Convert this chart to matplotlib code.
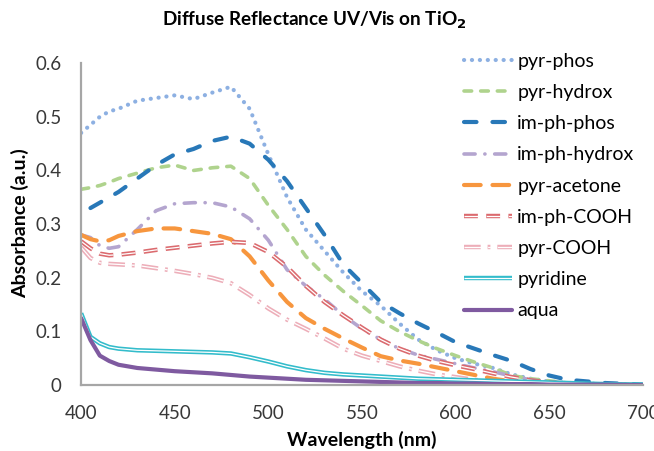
import numpy as np
import matplotlib
matplotlib.use('Agg')
import matplotlib.pyplot as plt

plt.rcParams['font.family'] = ['Lato', 'DejaVu Sans']
plt.rcParams['lines.scale_dashes'] = False

# wavelength grid (nm) shared by all series
wl = [400, 405, 410, 415, 420, 430, 440, 450, 460, 470, 480, 490, 500, 510, 520,
      530, 540, 550, 560, 570, 580, 590, 600, 610, 620, 630, 640, 650, 660, 680, 700]

pyr_phos = [0.47, 0.485, 0.50, 0.51, 0.515, 0.53, 0.535, 0.54, 0.533, 0.545, 0.556, 0.515, 0.43,
            0.35, 0.29, 0.25, 0.21, 0.175, 0.148, 0.115, 0.085, 0.065, 0.05, 0.04, 0.032, 0.02,
            0.012, 0.007, 0.004, 0.002, 0.001]
pyr_hydrox = [0.365, 0.368, 0.372, 0.378, 0.385, 0.395, 0.405, 0.41, 0.40, 0.405, 0.408, 0.385,
              0.335, 0.29, 0.24, 0.205, 0.175, 0.148, 0.12, 0.10, 0.083, 0.068, 0.055, 0.043,
              0.032, 0.018, 0.012, 0.008, 0.004, 0.002, 0.001]
im_ph_phos = [np.nan, 0.33, 0.34, 0.35, 0.36, 0.385, 0.41, 0.43, 0.44, 0.455, 0.463, 0.45, 0.42,
              0.38, 0.33, 0.28, 0.225, 0.19, 0.155, 0.134, 0.115, 0.098, 0.08, 0.068, 0.056,
              0.045, 0.03, 0.018, 0.01, 0.004, 0.001]
im_ph_hydrox = [0.28, 0.275, 0.26, 0.255, 0.258, 0.29, 0.325, 0.338, 0.34, 0.34, 0.332, 0.31,
                0.27, 0.215, 0.185, 0.16, 0.13, 0.105, 0.085, 0.068, 0.056, 0.048, 0.04, 0.032,
                0.025, 0.017, 0.01, 0.006, 0.003, 0.001, 0.0]
pyr_acetone = [0.28, 0.272, 0.268, 0.27, 0.278, 0.287, 0.292, 0.292, 0.287, 0.282, 0.272, 0.24,
               0.195, 0.155, 0.125, 0.105, 0.087, 0.07, 0.054, 0.046, 0.04, 0.033, 0.026, 0.019,
               0.012, 0.007, 0.004, 0.002, 0.001, 0.0, 0.0]
im_ph_cooh = [0.268, 0.255, 0.245, 0.242, 0.243, 0.247, 0.252, 0.256, 0.26, 0.264, 0.267, 0.265,
              0.248, 0.22, 0.185, 0.155, 0.13, 0.107, 0.085, 0.068, 0.055, 0.045, 0.037, 0.03,
              0.022, 0.015, 0.009, 0.005, 0.003, 0.001, 0.0]
pyr_cooh = [0.257, 0.237, 0.228, 0.226, 0.225, 0.223, 0.218, 0.213, 0.207, 0.2, 0.19, 0.168,
            0.143, 0.122, 0.105, 0.087, 0.068, 0.055, 0.045, 0.035, 0.027, 0.02, 0.015, 0.01,
            0.006, 0.003, 0.002, 0.001, 0.0, 0.0, 0.0]
pyridine = [0.134, 0.09, 0.078, 0.071, 0.068, 0.065, 0.064, 0.063, 0.062, 0.061, 0.059, 0.052,
            0.044, 0.035, 0.028, 0.023, 0.02, 0.018, 0.016, 0.014, 0.012, 0.011, 0.01, 0.009,
            0.008, 0.007, 0.006, 0.005, 0.004, 0.002, 0.001]
aqua = [0.125, 0.084, 0.055, 0.045, 0.038, 0.032, 0.029, 0.026, 0.024, 0.022, 0.019, 0.016,
        0.014, 0.012, 0.01, 0.009, 0.008, 0.007, 0.006, 0.005, 0.004, 0.004, 0.003, 0.003,
        0.002, 0.002, 0.002, 0.001, 0.001, 0.001, 0.0]

labels = ['pyr-phos', 'pyr-hydrox', 'im-ph-phos', 'im-ph-hydrox', 'pyr-acetone',
          'im-ph-COOH', 'pyr-COOH', 'pyridine', 'aqua']
series = [pyr_phos, pyr_hydrox, im_ph_phos, im_ph_hydrox, pyr_acetone,
          im_ph_cooh, pyr_cooh, pyridine, aqua]

# (color, lw, dashes or None, capstyle, double-line?)
styles = [
    ('#8DB0E2', 3.0, (0.1, 5.6), 'round', False),
    ('#AFD38D', 2.6, (5.5, 6.5), 'round', False),
    ('#2878B8', 3.0, (9, 11.5), 'round', False),
    ('#B4A5CF', 2.6, (8, 7, 0.1, 7), 'round', False),
    ('#F7963E', 3.0, (12, 8.5), 'round', False),
    ('#DB6A6E', 3.2, (10, 6), 'butt', True),
    ('#EDAEB9', 3.2, (12, 5, 2, 5), 'butt', True),
    ('#33BCCB', 3.2, None, 'butt', True),
    ('#7F5AA0', 3.0, None, 'round', False),
]

fig = plt.figure(figsize=(6.54, 4.51), dpi=100)
ax = fig.add_axes([0.124, 0.146, 0.859, 0.714])

handles = []
for lab, y, (col, lw, dsh, cap, dbl) in zip(labels, series, styles):
    kw = dict(solid_capstyle=cap, dash_capstyle=cap)
    ln, = ax.plot(wl, y, color=col, lw=lw, **kw)
    if dsh is not None:
        ln.set_dashes(dsh)
    if dbl:
        # doble linea: trazo blanco fino encima
        wln, = ax.plot(wl, y, color='white', lw=0.9, **kw)
        if dsh is not None:
            wln.set_dashes(dsh)
        handles.append((ln, wln))
    else:
        handles.append(ln)

ax.set_xlim(400, 700)
ax.set_ylim(0, 0.6)
ax.set_xticks([400, 450, 500, 550, 600, 650, 700])
ax.set_yticks([0, 0.1, 0.2, 0.3, 0.4, 0.5, 0.6])
ax.set_yticklabels(['0', '0.1', '0.2', '0.3', '0.4', '0.5', '0.6'])
ax.tick_params(length=0, labelsize=13.5, colors='#383838')
ax.tick_params(axis='x', pad=14)
ax.tick_params(axis='y', pad=14)
for s in ['top', 'right']:
    ax.spines[s].set_visible(False)
for s in ['left', 'bottom']:
    ax.spines[s].set_color('#A6A6A6')
    ax.spines[s].set_linewidth(1.6)

fig.text(0.553, 0.024, 'Wavelength (nm)', fontsize=14, fontweight='bold',
         ha='center', va='center')
fig.text(0.030, 0.505, 'Absorbance (a.u.)', fontsize=14, fontweight='bold',
         rotation=90, ha='center', va='center')
fig.text(0.48, 0.955, 'Diffuse Reflectance UV/Vis on TiO$_\\mathbf{2}$', fontsize=13.6,
         fontweight='bold', ha='center', va='center')

leg = ax.legend(handles, labels, loc='upper left', bbox_to_anchor=(0.709, 0.883),
                bbox_transform=fig.transFigure, frameon=False, fontsize=14,
                handlelength=2.5, handletextpad=0.25, labelspacing=0.73,
                borderpad=0, borderaxespad=0)

fig.savefig('out.png', dpi=100)
